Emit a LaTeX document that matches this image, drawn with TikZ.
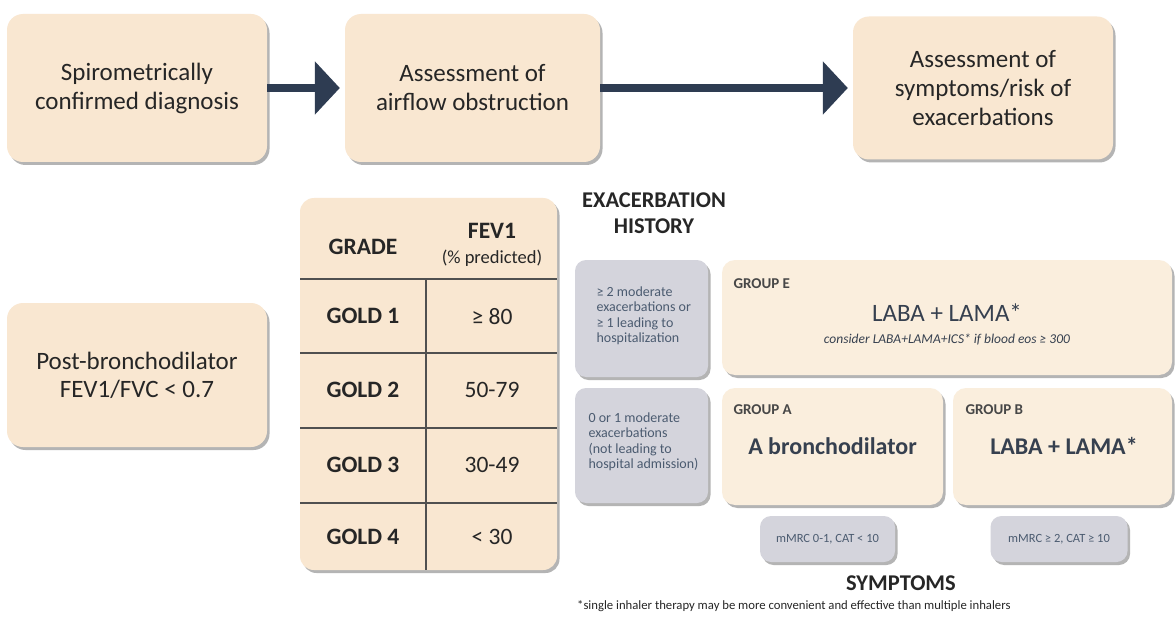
\documentclass[tikz,border=0pt]{standalone}
\usepackage{fontspec}
\setmainfont{Carlito}
\usetikzlibrary{shadows,arrows.meta}
\definecolor{beige}{HTML}{F9E7D1}
\definecolor{lbeige}{HTML}{FAEEDD}
\definecolor{greybox}{HTML}{D4D4DC}
\definecolor{slate}{HTML}{4B5B70}
\definecolor{navy}{HTML}{2E3C52}
\definecolor{txt}{HTML}{262626}
\definecolor{dtxt}{HTML}{36404F}
\definecolor{rule}{HTML}{505050}
\tikzset{
  shad/.style={drop shadow={shadow xshift=2.5pt,shadow yshift=-3pt,opacity=0.45,fill=black!65}},
  mainbox/.style={shad,fill=beige,rounded corners=16pt,align=center,text=txt,
    font=\fontsize{25}{29}\selectfont},
  groupbox/.style={shad,fill=lbeige,rounded corners=13pt},
  greyb/.style={shad,fill=greybox,rounded corners=11pt,text=slate},
  histtxt/.style={align=left,font=\fontsize{14}{15.5}\selectfont},
  grplabel/.style={anchor=west,text=black!72,font=\bfseries\fontsize{15}{17}\selectfont},
  therapy/.style={text=dtxt,font=\fontsize{25}{28}\selectfont},
  therapyb/.style={text=dtxt,font=\bfseries\fontsize{24}{28}\selectfont},
  tabhead/.style={text=txt,font=\bfseries\fontsize{23.5}{27}\selectfont},
  tabval/.style={text=txt,font=\fontsize{23.5}{27}\selectfont},
  axis/.style={text=txt,align=center,font=\bfseries\fontsize{22.5}{26}\selectfont},
  arr/.style={draw=navy,line width=8pt,-{Triangle[length=25pt,width=52pt]}},
  tabline/.style={draw=rule,line width=1.5pt}
}
\begin{document}
\begin{tikzpicture}[x=1pt,y=-1pt]
\useasboundingbox[fill=white] (0,0) rectangle (1176,623);

% top row
\node[mainbox,minimum width=260pt,minimum height=148pt] (b1) at (137,88)
  {Spirometrically\\confirmed diagnosis};
\node[mainbox,minimum width=255pt,minimum height=148pt] (b2) at (472.5,88)
  {Assessment of\\airflow obstruction};
\node[mainbox,minimum width=260pt,minimum height=143pt] (b3) at (983,88)
  {Assessment of\\symptoms/risk of\\exacerbations};
\draw[arr,shorten >=5pt] (b1.east) -- (b2.west);
\draw[arr,shorten >=5pt] (b2.east) -- (b3.west);

% post-bronchodilator
\node[mainbox,minimum width=260pt,minimum height=144pt,font=\fontsize{25}{28}\selectfont] (pb) at (137,375)
  {Post-bronchodilator\\FEV1/FVC < 0.7};

% GOLD table
\node[shad,fill=beige,rounded corners=14pt,minimum width=257pt,minimum height=372pt,inner sep=0pt] (tbl) at (428.5,384) {};
\draw[tabline] (300,279) -- (557,279);
\draw[tabline] (300,353) -- (557,353);
\draw[tabline] (300,428) -- (557,428);
\draw[tabline] (300,503) -- (557,503);
\draw[tabline] (426,279) -- (426,570);
\node[tabhead] (grade) at (363,247) {GRADE};
\node[tabhead] (fev) at (492,231) {FEV1};
\node[tabval,font=\fontsize{18.5}{21}\selectfont] (pred) at (492,258) {(\% predicted)};
\node[tabhead] (g1) at (363,316) {GOLD 1};
\node[tabval] (v1) at (492,317) {≥ 80};
\node[tabhead] (g2) at (363,390) {GOLD 2};
\node[tabval] (v2) at (492,390) {50-79};
\node[tabhead] (g3) at (363,465) {GOLD 3};
\node[tabval] (v3) at (492,465) {30-49};
\node[tabhead] (g4) at (363,537) {GOLD 4};
\node[tabval] (v4) at (492,537) {< 30};

% exacerbation history axis
\node[axis] (hist) at (654,213) {EXACERBATION\\HISTORY};
\node[greyb,minimum width=133pt,minimum height=117pt] (h1) at (641.5,318.5) {};
\node[histtxt,text=slate,anchor=west] (h1t) at (593,316)
  {≥ 2 moderate\\exacerbations or\\≥ 1 leading to\\hospitalization};
\node[greyb,minimum width=133pt,minimum height=115pt] (h2) at (641.5,445.5) {};
\node[histtxt,text=slate,anchor=west] (h2t) at (585,442)
  {0 or 1 moderate\\exacerbations\\(not leading to\\hospital admission)};

% groups
\node[groupbox,minimum width=450pt,minimum height=115pt] (gE) at (947,317.5) {};
\node[grplabel] (gEl) at (730,284) {GROUP E};
\node[therapy] (gEt) at (947,313) {LABA + LAMA*};
\node[text=dtxt,font=\itshape\fontsize{13.5}{16}\selectfont] (gEc) at (947,340)
  {consider LABA+LAMA+ICS* if blood eos ≥ 300};

\node[groupbox,minimum width=221pt,minimum height=117pt] (gA) at (832.5,446.5) {};
\node[grplabel] (gAl) at (730,410) {GROUP A};
\node[therapyb] (gAt) at (832.5,446) {A bronchodilator};

\node[groupbox,minimum width=219pt,minimum height=117pt] (gB) at (1062.5,446.5) {};
\node[grplabel] (gBl) at (962,410) {GROUP B};
\node[therapyb] (gBt) at (1064,446) {LABA + LAMA*};

% symptoms axis
\node[greyb,minimum width=135pt,minimum height=46pt,font=\fontsize{12.5}{15}\selectfont] (sA) at (827.5,539)
  {mMRC 0-1, CAT < 10};
\node[greyb,minimum width=137pt,minimum height=46pt,font=\fontsize{12.5}{15}\selectfont] (sB) at (1059,539)
  {mMRC ≥ 2, CAT ≥ 10};
\node[axis] (symp) at (901,583) {SYMPTOMS};

\node[anchor=west,text=txt,inner sep=0pt,font=\fontsize{12.7}{14}\selectfont] (foot) at (577,606)
  {*single inhaler therapy may be more convenient and effective than multiple inhalers};
\end{tikzpicture}
\end{document}
